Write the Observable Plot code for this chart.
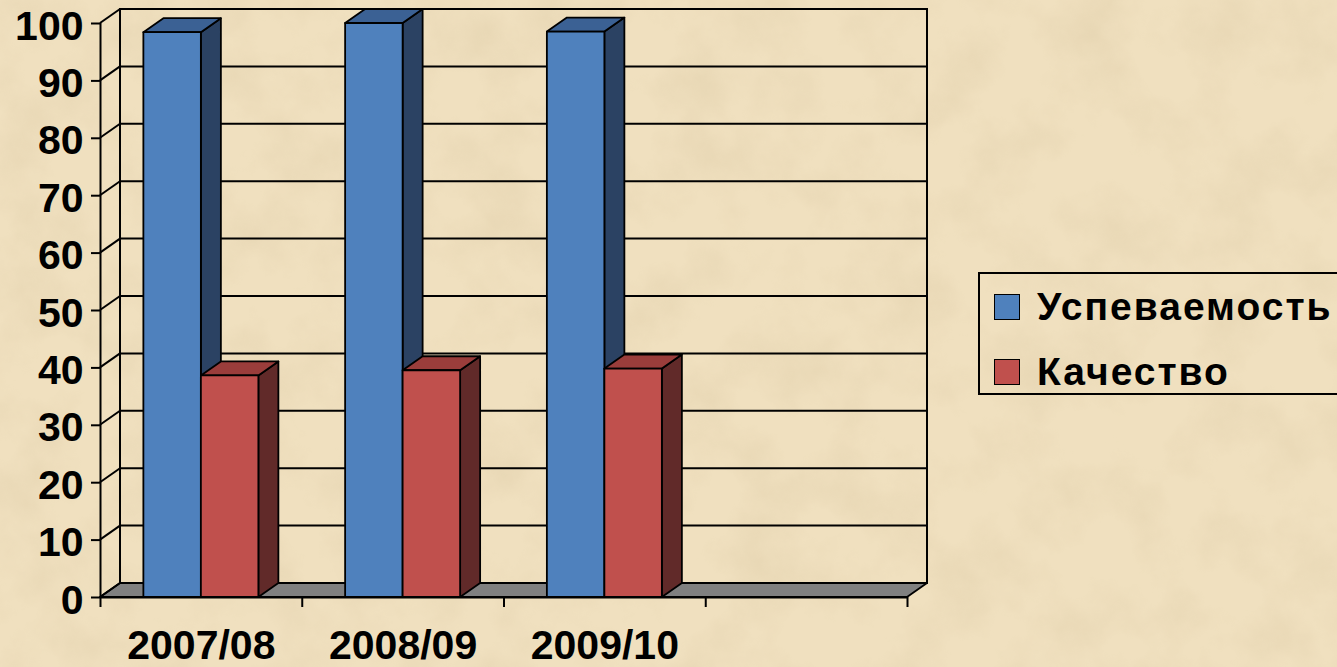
<!DOCTYPE html>
<html>
<head>
<meta charset="utf-8">
<script src="https://cdn.jsdelivr.net/npm/d3@7"></script>
<script src="https://cdn.jsdelivr.net/npm/@observablehq/plot@0.6"></script>
<style>
  html, body { margin: 0; padding: 0; width: 1337px; height: 667px; overflow: hidden; }
  body { background: #eedcb9; position: relative; font-family: "Liberation Sans", Arial, sans-serif; }
  #bg { position: absolute; left: 0; top: 0; }
  #chart { position: absolute; left: 0; top: 0; }
  #legend { position: absolute; left: 978px; top: 272px; width: 420px; height: 123px;
            border: 2px solid #000; box-sizing: border-box; }
  .sw { position: absolute; left: 14px; width: 26px; height: 26px; border: 1.5px solid #000; box-sizing: border-box; }
  .lt { position: absolute; left: 57px; font-size: 39px; line-height: 1; font-weight: bold; color: #000; letter-spacing: 2px; white-space: nowrap; }
</style>
</head>
<body>
<svg id="bg" width="1337" height="667">
  <filter id="paper" x="0" y="0" width="100%" height="100%">
    <feTurbulence type="fractalNoise" baseFrequency="0.015" numOctaves="5" seed="7"/>
    <feColorMatrix type="matrix" values="0 0 0 0 0.62  0 0 0 0 0.50  0 0 0 0 0.30  1.5 0 0 0 -0.6"/>
  </filter>
  <rect width="1337" height="667" fill="#f0e0bf"/>
  <rect width="1337" height="667" filter="url(#paper)" opacity="0.3"/>
</svg>
<div id="chart"></div>
<div id="legend"></div>
<script>
// ---- data ----
const categories = ["2007/08", "2008/09", "2009/10"];
const slotCount = 4; // the axis has a fourth, empty category slot
const seriesNames = ["Успеваемость", "Качество"];
const uspevaemost = [98.4, 100, 98.5];
const kachestvo = [38.6, 39.5, 39.8];
const yTicks = [0, 10, 20, 30, 40, 50, 60, 70, 80, 90, 100];
const slotTicks = [0, 1, 2, 3, 4];

// ---- styles ----
const frontColors = ["#4f81bd", "#c0504d"];
const topColors = ["#3b6194", "#9a3d3b"];
const sideColors = ["#2b4263", "#612a29"];
const depthX = 20, depthY = -14;
const gapFrac = 0.215, barFrac = 0.285;
const font = "Liberation Sans, Arial, sans-serif";

const rows = categories.flatMap((c, i) => [
  {cat: c, i, s: 0, value: uspevaemost[i]},
  {cat: c, i, s: 1, value: kachestvo[i]}
]);

function poly(g, pts, fill) {
  g.append("polygon")
    .attr("points", pts.map(p => p.join(",")).join(" "))
    .attr("fill", fill)
    .attr("stroke", "#000")
    .attr("stroke-width", 1.8)
    .attr("stroke-linejoin", "round");
}

// floor, back wall, side wall and gridlines
function scene(index, scales) {
  const {x, y} = scales;
  const g = d3.create("svg:g");
  const xl = x(0), xr = x(slotCount), y0 = y(0), yt = y(100);
  poly(g, [[xl, y0], [xr, y0], [xr + depthX, y0 + depthY], [xl + depthX, y0 + depthY]], "#808080");
  g.append("rect")
    .attr("x", xl + depthX).attr("y", yt + depthY)
    .attr("width", xr - xl).attr("height", y0 - yt)
    .attr("fill", "none").attr("stroke", "#000").attr("stroke-width", 2);
  for (const t of yTicks) {
    if (t > 0) {
      g.append("line")
        .attr("x1", xl + depthX).attr("x2", xr + depthX)
        .attr("y1", y(t) + depthY).attr("y2", y(t) + depthY)
        .attr("stroke", "#000").attr("stroke-width", 2);
    }
    g.append("line")
      .attr("x1", xl).attr("x2", xl + depthX)
      .attr("y1", y(t)).attr("y2", y(t) + depthY)
      .attr("stroke", "#000").attr("stroke-width", 2);
  }
  return g.node();
}

// 3D bars
function bars(index, scales) {
  const {x, y} = scales;
  const g = d3.create("svg:g");
  const y0 = y(0);
  for (const r of rows) {
    const a = x(r.i + gapFrac + r.s * barFrac);
    const b = x(r.i + gapFrac + (r.s + 1) * barFrac);
    const yt = y(r.value);
    poly(g, [[b, yt], [b + depthX, yt + depthY], [b + depthX, y0 + depthY], [b, y0]], sideColors[r.s]);
    poly(g, [[a, yt], [a + depthX, yt + depthY], [b + depthX, yt + depthY], [b, yt]], topColors[r.s]);
    poly(g, [[a, yt], [b, yt], [b, y0], [a, y0]], frontColors[r.s]);
  }
  return g.node();
}

const plot = Plot.plot({
  width: 1337,
  height: 667,
  marginLeft: 100,
  marginRight: 430,
  marginTop: 23,
  marginBottom: 70,
  x: {domain: [0, slotCount], axis: null},
  y: {domain: [0, 100], axis: null},
  style: {background: "transparent", overflow: "visible", fontFamily: font},
  marks: [
    scene,
    bars,
    Plot.ruleX([0], {y1: 0, y2: 100, stroke: "#000", strokeWidth: 2}),
    Plot.ruleY([0], {stroke: "#000", strokeWidth: 2}),
    Plot.axisY({ticks: yTicks, tickSize: 9, tickFormat: () => "", stroke: "#000", strokeWidth: 2}),
    Plot.axisX({ticks: slotTicks, tickSize: 10, tickFormat: () => "", stroke: "#000", strokeWidth: 2}),
    Plot.text(yTicks, {
      y: d => d, frameAnchor: "left", dx: -17, dy: 3, textAnchor: "end",
      text: d => String(d), fontSize: 41, fontWeight: "bold", fill: "#000"
    }),
    Plot.text(categories, {
      x: (d, i) => i + 0.5, frameAnchor: "bottom", dy: 61,
      text: d => d, fontSize: 41, fontWeight: "bold", fill: "#000"
    })
  ]
});
document.getElementById("chart").appendChild(plot);

// legend
const legend = document.getElementById("legend");
const swTops = [20, 85];
const txtTops = [13, 78];
seriesNames.forEach((name, k) => {
  const sw = document.createElement("div");
  sw.className = "sw";
  sw.style.top = swTops[k] + "px";
  sw.style.background = frontColors[k];
  legend.appendChild(sw);
  const t = document.createElement("div");
  t.className = "lt";
  t.style.top = txtTops[k] + "px";
  t.textContent = name;
  legend.appendChild(t);
});
</script>
</body>
</html>
